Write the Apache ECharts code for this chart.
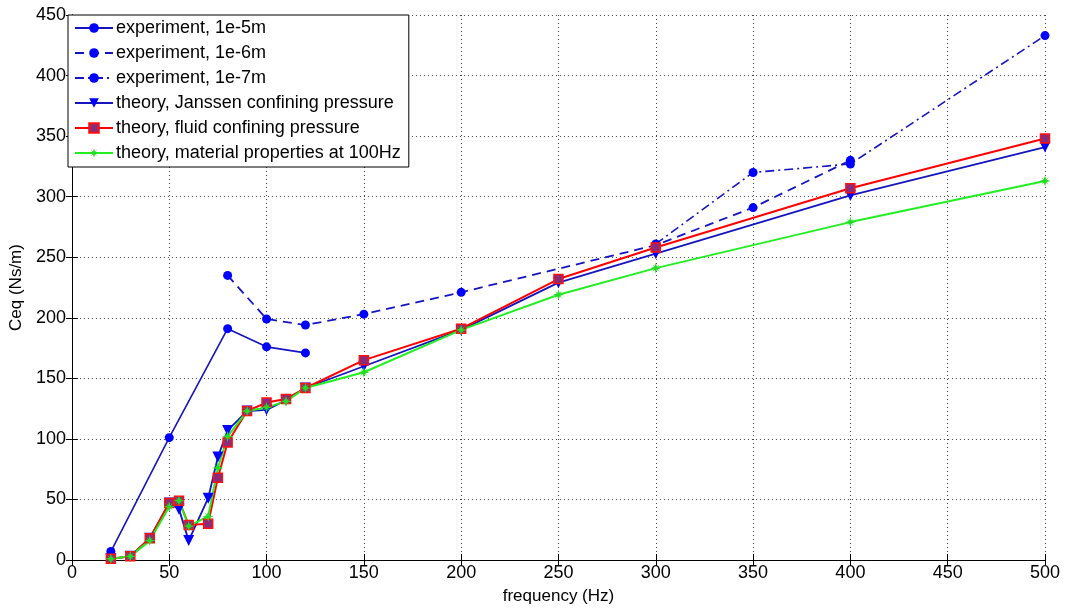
<!DOCTYPE html>
<html>
<head>
<meta charset="utf-8">
<script src="https://cdn.jsdelivr.net/npm/echarts@6/dist/echarts.min.js"></script>
<style>
html,body{margin:0;padding:0;background:#fff;}
#chart{width:1069px;height:610px;}
</style>
</head>
<body>
<div id="chart"></div>
<script>
// ---- data ----
var xTicks = [0,50,100,150,200,250,300,350,400,450,500];
var yTicks = [0,50,100,150,200,250,300,350,400,450];

var freqExp5 = [20,50,80,100,120];
var exp5 = [7,101,191,176,171];

var freqExp6 = [80,100,120,150,200,300,350,400];
var exp6 = [235,199,194,203,221,260,291,330];

var freqExp7 = [300,350,400,500];
var exp7 = [261,320,327,433];

var freqTheory = [20,30,40,50,55,60,70,75,80,90,100,110,120,150,200,250,300,400,500];
var janssen  = [1,3,18,47,42,16,51,85,107,123,124,132,142,160,190,229,253,301,341];
var fluid    = [1,3,18,47,49,29,30,68,97,123,130,133,142,165,191,232,258,307,348];
var material = [1,3,16,44,49,28,36,76,102,123,126,131,142,155,190,219,241,279,313];

var names = [
  'experiment, 1e-5m',
  'experiment, 1e-6m',
  'experiment, 1e-7m',
  'theory, Janssen confining pressure',
  'theory, fluid confining pressure',
  'theory, material properties at 100Hz'
];

function pairs(xs, ys){ return xs.map(function(x,i){ return [x, ys[i]]; }); }

var FONT = '"Liberation Sans", Arial, Helvetica, sans-serif';
var BLUE_LINE = '#1515c0';
var BLUE_MK = '#0000ff';
var starPath = 'path://M0,-5L1,-1.5L3.5,-3.5L1.5,-1L5,0L1.5,1L3.5,3.5L1,1.5L0,5L-1,1.5L-3.5,3.5L-1.5,1L-5,0L-1.5,-1L-3.5,-3.5L-1,-1.5Z';

var chart = echarts.init(document.getElementById('chart'));

var axisCommon = {
  axisLine: {show: true, lineStyle: {color: '#000', width: 1}},
  axisTick: {show: true, inside: true, length: 6, lineStyle: {color: '#000'}}
};

var option = {
  animation: false,
  backgroundColor: '#fff',
  grid: {left: 67, right: 24, top: 15, bottom: 48, containLabel: false},
  legend: {
    orient: 'vertical',
    left: 68, top: 15,
    padding: [3, 8, 4, 6],
    itemGap: 5,
    itemWidth: 38,
    itemHeight: 12,
    backgroundColor: '#fff',
    borderColor: '#000',
    borderWidth: 1,
    borderRadius: 0,
    textStyle: {fontFamily: FONT, fontSize: 18, color: '#000', lineHeight: 20, padding: [0,0,0,-2]},
    data: names
  },
  xAxis: [
    Object.assign({
      type: 'value', min: 0, max: 500, interval: 50,
      name: 'frequency (Hz)', nameLocation: 'middle', nameGap: 28,
      nameTextStyle: {fontFamily: FONT, fontSize: 17, color: '#000'},
      axisLabel: {fontFamily: FONT, fontSize: 18, color: '#000', margin: 4},
      splitLine: {show: true, lineStyle: {color: '#444', width: 1, type: [1, 3]}}
    }, axisCommon),
    Object.assign({
      type: 'value', min: 0, max: 500, interval: 50, position: 'top',
      axisLabel: {show: false}, splitLine: {show: false}
    }, axisCommon)
  ],
  yAxis: [
    Object.assign({
      type: 'value', min: 0, max: 450, interval: 50,
      name: 'Ceq (Ns/m)', nameLocation: 'middle', nameGap: 35,
      nameTextStyle: {fontFamily: FONT, fontSize: 17, color: '#000'},
      axisLabel: {fontFamily: FONT, fontSize: 18, color: '#000', margin: 6},
      splitLine: {show: true, lineStyle: {color: '#444', width: 1, type: [1, 3]}}
    }, axisCommon),
    Object.assign({
      type: 'value', min: 0, max: 450, interval: 50, position: 'right',
      axisLabel: {show: false}, splitLine: {show: false}
    }, axisCommon)
  ],
  series: [
    {
      name: names[0], type: 'line', data: pairs(freqExp5, exp5),
      symbol: 'circle', symbolSize: 9,
      lineStyle: {color: BLUE_LINE, width: 1.6, type: 'solid'},
      itemStyle: {color: BLUE_MK}
    },
    {
      name: names[1], type: 'line', data: pairs(freqExp6, exp6),
      symbol: 'circle', symbolSize: 9,
      lineStyle: {color: BLUE_LINE, width: 1.8, type: [9, 6]},
      itemStyle: {color: BLUE_MK}
    },
    {
      name: names[2], type: 'line', data: pairs(freqExp7, exp7),
      symbol: 'circle', symbolSize: 9,
      lineStyle: {color: BLUE_LINE, width: 1.6, type: [9, 4, 2, 4]},
      itemStyle: {color: BLUE_MK}
    },
    {
      name: names[3], type: 'line', data: pairs(freqTheory, janssen),
      symbol: 'triangle', symbolRotate: 180, symbolSize: 11,
      lineStyle: {color: BLUE_LINE, width: 1.8},
      itemStyle: {color: BLUE_MK}
    },
    {
      name: names[4], type: 'line', data: pairs(freqTheory, fluid),
      symbol: 'rect', symbolSize: 9,
      lineStyle: {color: '#ff0000', width: 2},
      itemStyle: {color: '#8a2b7a', borderColor: '#ff1010', borderWidth: 1.5}
    },
    {
      name: names[5], type: 'line', data: pairs(freqTheory, material),
      symbol: starPath, symbolSize: 11,
      lineStyle: {color: '#22ee22', width: 2},
      itemStyle: {color: '#22dd22'}
    }
  ]
};
chart.setOption(option);
</script>
</body>
</html>
